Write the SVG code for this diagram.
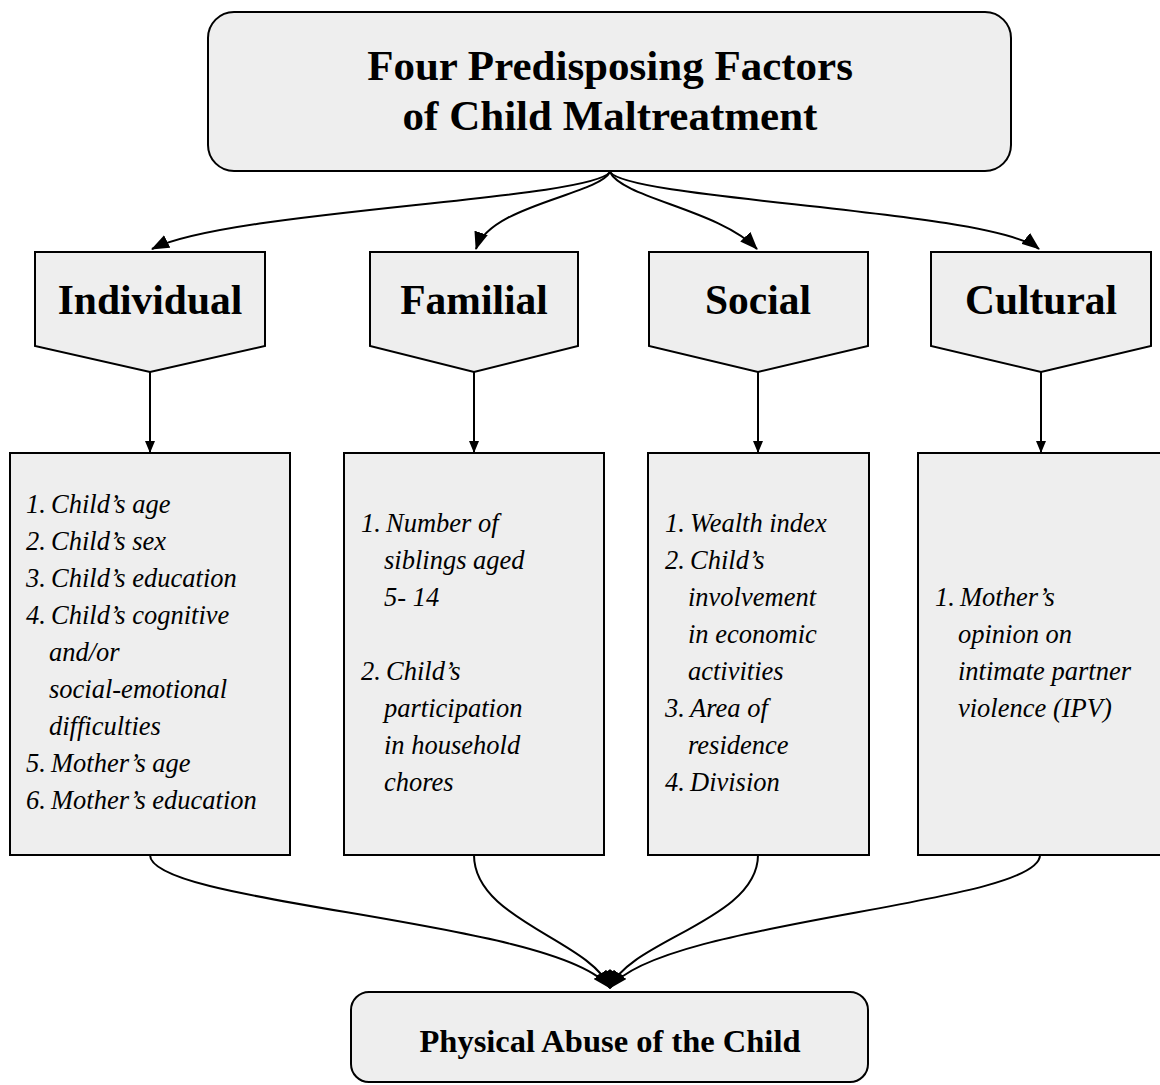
<svg xmlns="http://www.w3.org/2000/svg" width="1160" height="1085" viewBox="0 0 1160 1085">
<style>
.box{fill:#eeeeee;stroke:#000;stroke-width:2}
.head{font-family:"Liberation Serif",serif;font-weight:bold;fill:#000;text-anchor:middle}
.item{font-family:"Liberation Serif",serif;font-style:italic;font-size:26.5px;fill:#000}
.conn{fill:none;stroke:#000;stroke-width:2}
</style>
<defs>
<marker id="arrBig" viewBox="0 0 18 14" refX="17" refY="7" markerWidth="18" markerHeight="14" markerUnits="userSpaceOnUse" orient="auto">
<path d="M0,0 L18,7 L0,14 Z" fill="#000"/>
</marker>
<marker id="arrSmall" viewBox="0 0 12 10" refX="11" refY="5" markerWidth="12" markerHeight="10" markerUnits="userSpaceOnUse" orient="auto">
<path d="M0,0 L12,5 L0,10 Z" fill="#000"/>
</marker>
<marker id="arrJoin" viewBox="0 0 18 16" refX="17" refY="8" markerWidth="18" markerHeight="16" markerUnits="userSpaceOnUse" orient="auto">
<path d="M0,0 L18,8 L0,16 Z" fill="#000"/>
</marker>
</defs>

<g id="title">
<rect class="box" x="208" y="12" width="803" height="159" rx="26"/>
<text class="head" x="610" y="80" font-size="43">Four Predisposing Factors</text>
<text class="head" x="610" y="130" font-size="43">of Child Maltreatment</text>
</g>

<g id="individual">
<polygon class="box" points="35,252 265,252 265,346 150,372 35,346"/>
<text class="head" x="150" y="314" font-size="41.5">Individual</text>
</g>
<g id="familial">
<polygon class="box" points="370,252 578,252 578,346 474,372 370,346"/>
<text class="head" x="474" y="314" font-size="41.5">Familial</text>
</g>
<g id="social">
<polygon class="box" points="649,252 868,252 868,346 758,372 649,346"/>
<text class="head" x="758" y="314" font-size="41.5">Social</text>
</g>
<g id="cultural">
<polygon class="box" points="931,252 1151,252 1151,346 1041,372 931,346"/>
<text class="head" x="1041" y="314" font-size="41.5">Cultural</text>
</g>

<g id="individual-items">
<rect class="box" x="10" y="453" width="280" height="402"/>
<text class="item" y="513"><tspan x="26">1.</tspan><tspan x="51">Child’s age</tspan></text>
<text class="item" y="550"><tspan x="26">2.</tspan><tspan x="51">Child’s sex</tspan></text>
<text class="item" y="587"><tspan x="26">3.</tspan><tspan x="51">Child’s education</tspan></text>
<text class="item" y="624"><tspan x="26">4.</tspan><tspan x="51">Child’s cognitive</tspan></text>
<text class="item" x="49" y="661">and/or</text>
<text class="item" x="49" y="698">social-emotional</text>
<text class="item" x="49" y="735">difficulties</text>
<text class="item" y="772"><tspan x="26">5.</tspan><tspan x="51">Mother’s age</tspan></text>
<text class="item" y="809"><tspan x="26">6.</tspan><tspan x="51">Mother’s education</tspan></text>
</g>

<g id="familial-items">
<rect class="box" x="344" y="453" width="260" height="402"/>
<text class="item" y="532"><tspan x="361">1.</tspan><tspan x="386">Number of</tspan></text>
<text class="item" x="384" y="569">siblings aged</text>
<text class="item" x="384" y="606">5- 14</text>
<text class="item" y="680"><tspan x="361">2.</tspan><tspan x="386">Child’s</tspan></text>
<text class="item" x="384" y="717">participation</text>
<text class="item" x="384" y="754">in household</text>
<text class="item" x="384" y="791">chores</text>
</g>

<g id="social-items">
<rect class="box" x="648" y="453" width="221" height="402"/>
<text class="item" y="532"><tspan x="665">1.</tspan><tspan x="690">Wealth index</tspan></text>
<text class="item" y="569"><tspan x="665">2.</tspan><tspan x="690">Child’s</tspan></text>
<text class="item" x="688" y="606">involvement</text>
<text class="item" x="688" y="643">in economic</text>
<text class="item" x="688" y="680">activities</text>
<text class="item" y="717"><tspan x="665">3.</tspan><tspan x="690">Area of</tspan></text>
<text class="item" x="688" y="754">residence</text>
<text class="item" y="791"><tspan x="665">4.</tspan><tspan x="690">Division</tspan></text>
</g>

<g id="cultural-items">
<rect class="box" x="918" y="453" width="250" height="402"/>
<text class="item" y="606"><tspan x="935">1.</tspan><tspan x="960">Mother’s</tspan></text>
<text class="item" x="958" y="643">opinion on</text>
<text class="item" x="958" y="680">intimate partner</text>
<text class="item" x="958" y="717">violence (IPV)</text>
</g>

<g id="outcome">
<rect class="box" x="351" y="992" width="517" height="90" rx="18"/>
<text class="head" x="610" y="1052" font-size="32.5">Physical Abuse of the Child</text>
</g>

<g id="connectors">
<path class="conn" marker-end="url(#arrBig)" d="M610,172 C590,200 230,210 152,249"/>
<path class="conn" marker-end="url(#arrBig)" d="M610,172 C598,195 490,205 476,249"/>
<path class="conn" marker-end="url(#arrBig)" d="M610,172 C622,198 720,210 757,249"/>
<path class="conn" marker-end="url(#arrBig)" d="M610,172 C630,200 990,210 1039,249"/>
<path class="conn" marker-end="url(#arrSmall)" d="M150,372 L150,452"/>
<path class="conn" marker-end="url(#arrSmall)" d="M474,372 L474,452"/>
<path class="conn" marker-end="url(#arrSmall)" d="M758,372 L758,452"/>
<path class="conn" marker-end="url(#arrSmall)" d="M1041,372 L1041,452"/>
<path class="conn" marker-end="url(#arrJoin)" d="M150,855 C150,905 560,920 610,988"/>
<path class="conn" marker-end="url(#arrJoin)" d="M474,855 C474,920 590,940 610,988"/>
<path class="conn" marker-end="url(#arrJoin)" d="M758,855 C758,920 630,940 610,988"/>
<path class="conn" marker-end="url(#arrJoin)" d="M1040,855 C1040,905 660,920 610,988"/>
</g>
</svg>
